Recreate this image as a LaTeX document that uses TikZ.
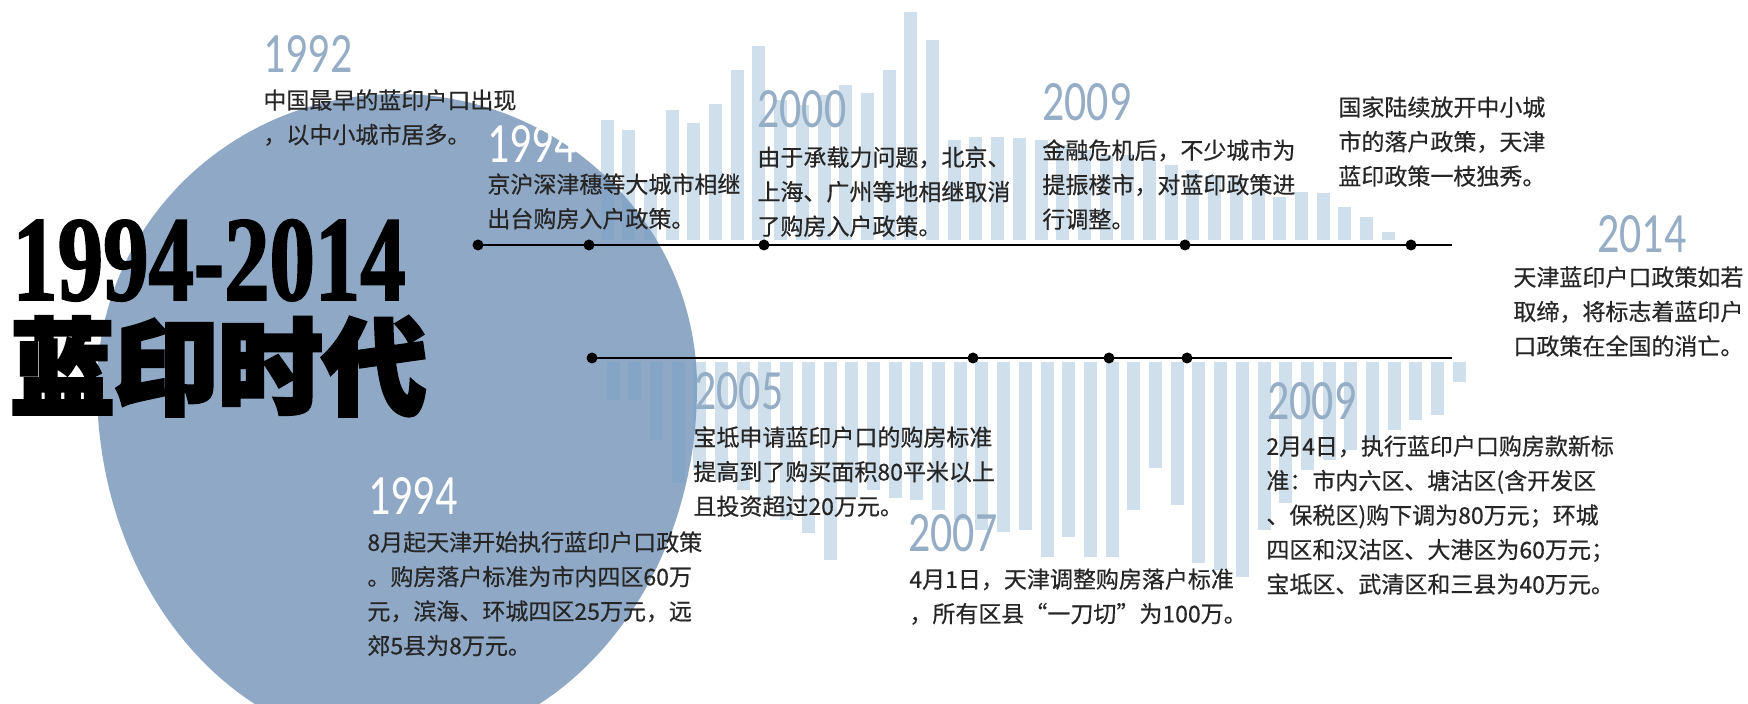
\documentclass[tikz,border=0pt]{standalone}
\usepackage{fontspec}
\newfontfamily\cjk{Noto Sans CJK SC}[FakeBold=0.5]
\newfontfamily\cjkheavy{Noto Sans CJK SC}[FakeBold=4]
\newfontfamily\yearfont{Carlito}[FakeStretch=0.77]
\newfontfamily\titlefont{Liberation Serif}[FakeStretch=0.75,FakeBold=1.5]
\definecolor{discblue}{RGB}{143,168,197}
\definecolor{barblue}{RGB}{111,160,200}
\definecolor{yearblue}{RGB}{150,173,198}
\definecolor{notegray}{RGB}{38,38,38}

\begin{document}
\begin{tikzpicture}[x=0.5pt,y=-0.5pt,
    yr/.style={font=\yearfont\fontsize{28.5}{28.5}\selectfont,text=yearblue,inner sep=0pt,anchor=base west},
    note/.style={font=\cjk\fontsize{11.5}{17.25}\selectfont,text=notegray,align=left,inner sep=0pt,anchor=north west},
    yeardot/.style={circle,fill=black,inner sep=0pt,minimum size=5.5pt},
    bar/.style={fill=barblue,fill opacity=0.33}]

    \path[use as bounding box,fill=white] (0,0) rectangle (1748,704);
    \clip (0,0) rectangle (1748,704);
    \fill[discblue] (97,387) arc[start angle=180,end angle=0,x radius=150pt,y radius=146.5pt]
        arc[start angle=0,end angle=-180,x radius=150pt,y radius=180pt] -- cycle;

    \foreach \k/\t in {0/120,1/130,2/180,3/110,4/123,5/104,6/70,7/46,8/100,
        9/105,10/95,11/85,12/93,13/70,14/12,15/40,16/140,17/137,18/137,19/138,
        20/140,21/145,22/150,23/155,24/155,25/160,26/165,27/170,28/175,29/178,
        30/190,31/197,32/192,33/193,34/207,35/217,36/232} {
        \fill[bar] ({600.5+21.7*\k},240) rectangle ({613.5+21.7*\k},\t);
    }
    \foreach \k/\b in {0/400,1/400,2/440,3/483,4/470,5/480,6/490,7/500,8/520,
        9/533,10/560,11/497,12/490,13/498,14/500,15/510,16/520,17/530,18/532,
        19/530,20/557,21/537,22/557,23/557,24/510,25/468,26/505,27/563,28/570,
        29/577,30/530,31/503,32/470,33/460,34/450,35/440,36/430,37/420,38/415,
        39/382} {
        \fill[bar] ({606.5+21.7*\k},362) rectangle ({619.5+21.7*\k},\b);
    }

    \node[font=\titlefont\bfseries\fontsize{60.5}{60.5}\selectfont,inner sep=0pt,anchor=base west] (title) at (12,300) {1994-2014};
    \node[font=\cjkheavy\bfseries\fontsize{52}{52}\selectfont,inner sep=0pt,text height=42pt,anchor=base west] (era) at (10,406) {蓝印时代};

    \foreach \n/\x in {1/478,2/589,3/764,4/1185,5/1411}
        \node[yeardot] (u\n) at (\x,245) {};
    \coordinate (uend) at (1452,245);
    \draw[line width=1pt] (u1.center) -- (uend);
    \foreach \n/\x in {1/592,2/973,3/1109,4/1187}
        \node[yeardot] (l\n) at (\x,358) {};
    \coordinate (lend) at (1452,358);
    \draw[line width=1pt] (l1.center) -- (lend);

    \node[yr] (y1992) at (263,73) {1992};
    \node[yr,text=white] (y1994a) at (487,163) {1994};
    \node[yr] (y2000) at (757,128) {2000};
    \node[yr] (y2009a) at (1042,121) {2009};
    \node[yr] (y2014) at (1597,253) {2014};
    \node[yr] (y2005) at (694,410) {2005};
    \node[yr,text=white] (y1994b) at (368,515) {1994};
    \node[yr] (y2007) at (908,552) {2007};
    \node[yr] (y2009b) at (1267,420) {2009};

    \node[note] (n1992) at (263,89) {中国最早的蓝印户口出现\\，以中小城市居多。};
    \node[note] (n1994a) at (487,173) {京沪深津穗等大城市相继\\出台购房入户政策。};
    \node[note] (n2000) at (757,146) {由于承载力问题，北京、\\上海、广州等地相继取消\\了购房入户政策。};
    \node[note] (n2009a) at (1042,139) {金融危机后，不少城市为\\提振楼市，对蓝印政策进\\行调整。};
    \node[note] (nopen) at (1338,96) {国家陆续放开中小城\\市的落户政策，天津\\蓝印政策一枝独秀。};
    \node[note] (n2014) at (1513,266) {天津蓝印户口政策如若\\取缔，将标志着蓝印户\\口政策在全国的消亡。};
    \node[note] (n2005) at (693,426) {宝坻申请蓝印户口的购房标准\\提高到了购买面积80平米以上\\且投资超过20万元。};
    \node[note] (n1994b) at (367,531) {8月起天津开始执行蓝印户口政策\\。购房落户标准为市内四区60万\\元，滨海、环城四区25万元，远\\郊5县为8万元。};
    \node[note] (n2007) at (909,568) {4月1日，天津调整购房落户标准\\，所有区县“一刀切”为100万。};
    \node[note] (n2009b) at (1266,435) {2月4日，执行蓝印户口购房款新标\\准：市内六区、塘沽区(含开发区\\、保税区)购下调为80万元；环城\\四区和汉沽区、大港区为60万元；\\宝坻区、武清区和三县为40万元。};
\end{tikzpicture}
\end{document}
